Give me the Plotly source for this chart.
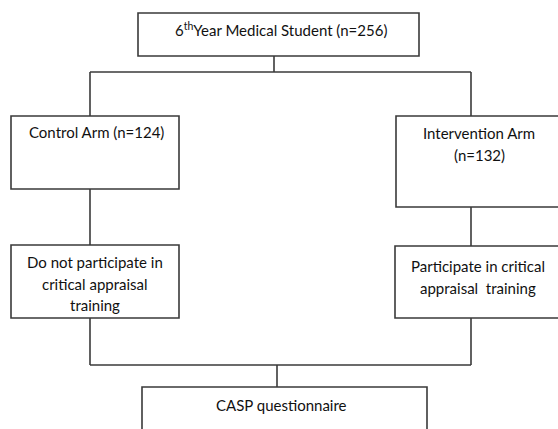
import plotly.graph_objects as go

# ---- content (data) ----
total_n = [256]
arm_names = ["Control Arm", "Intervention Arm"]
arm_n = [124, 132]
step_lines = [["Do not participate in", "critical appraisal", "training"],
              ["Participate in critical", "appraisal  training"]]
final_label = "CASP questionnaire"

# ---- layout geometry (pixels, y downwards) ----
W, H = 558, 429
boxes = {
    "top": (138, 13, 419, 56),
    "arm0": (11, 116, 179, 189),
    "arm1": (396, 116, 562, 207),
    "step0": (11, 245, 179, 318),
    "step1": (395, 246, 562, 318),
    "final": (142, 387, 427, 440),
}
line_col = "#3a3a3a"
txt_col = "#111111"
font_fam = "Lato, Open Sans, sans-serif"
fsize = 15

fig = go.Figure()
shapes = []
for k, (x0, y0, x1, y1) in boxes.items():
    shapes.append(dict(type="rect", xref="x", yref="y", x0=x0, y0=y0, x1=x1, y1=y1,
                       line=dict(color=line_col, width=1.6), fillcolor="rgba(0,0,0,0)"))

segs = [
    (274, 56, 274, 72),
    (90, 72, 471, 72),
    (90, 72, 90, 116),
    (471, 72, 471, 116),
    (90, 189, 90, 245),
    (471, 207, 471, 246),
    (90, 318, 90, 365),
    (471, 318, 471, 365),
    (90, 365, 471, 365),
    (277, 365, 277, 387),
]
for x0, y0, x1, y1 in segs:
    shapes.append(dict(type="line", xref="x", yref="y", x0=x0, y0=y0, x1=x1, y1=y1,
                       line=dict(color=line_col, width=1.6)))

ann = []
def add_text(x, y, text):
    ann.append(dict(x=x, y=y, xref="x", yref="y", text=text, showarrow=False,
                    font=dict(family=font_fam, size=fsize, color=txt_col),
                    xanchor="center", yanchor="middle", align="center"))

def add_lines(x, y0, lines, step=21.5):
    for i, t in enumerate(lines):
        add_text(x, y0 + i * step, t)

add_text(281, 29, f"6<sup>th</sup>Year Medical Student (n={total_n[0]})")
add_text(96, 132, f"{arm_names[0]} (n={arm_n[0]})")
add_lines(479, 133, [arm_names[1], f"(n={arm_n[1]})"])
add_lines(95, 262, step_lines[0])
add_lines(478, 266, step_lines[1])
add_text(281, 405, final_label)

fig.add_trace(go.Scatter(x=[0, W], y=[0, H], mode="markers", marker=dict(opacity=0),
                         hoverinfo="skip", showlegend=False))
fig.update_layout(
    width=W, height=H, margin=dict(l=0, r=0, t=0, b=0),
    paper_bgcolor="white", plot_bgcolor="white",
    xaxis=dict(range=[0, W], visible=False, fixedrange=True),
    yaxis=dict(range=[H, 0], visible=False, fixedrange=True),
    shapes=shapes, annotations=ann, showlegend=False,
)
fig.write_html("out.html", config={"displayModeBar": False},
               post_script="document.body.style.margin='0';document.body.style.overflow='hidden';")
